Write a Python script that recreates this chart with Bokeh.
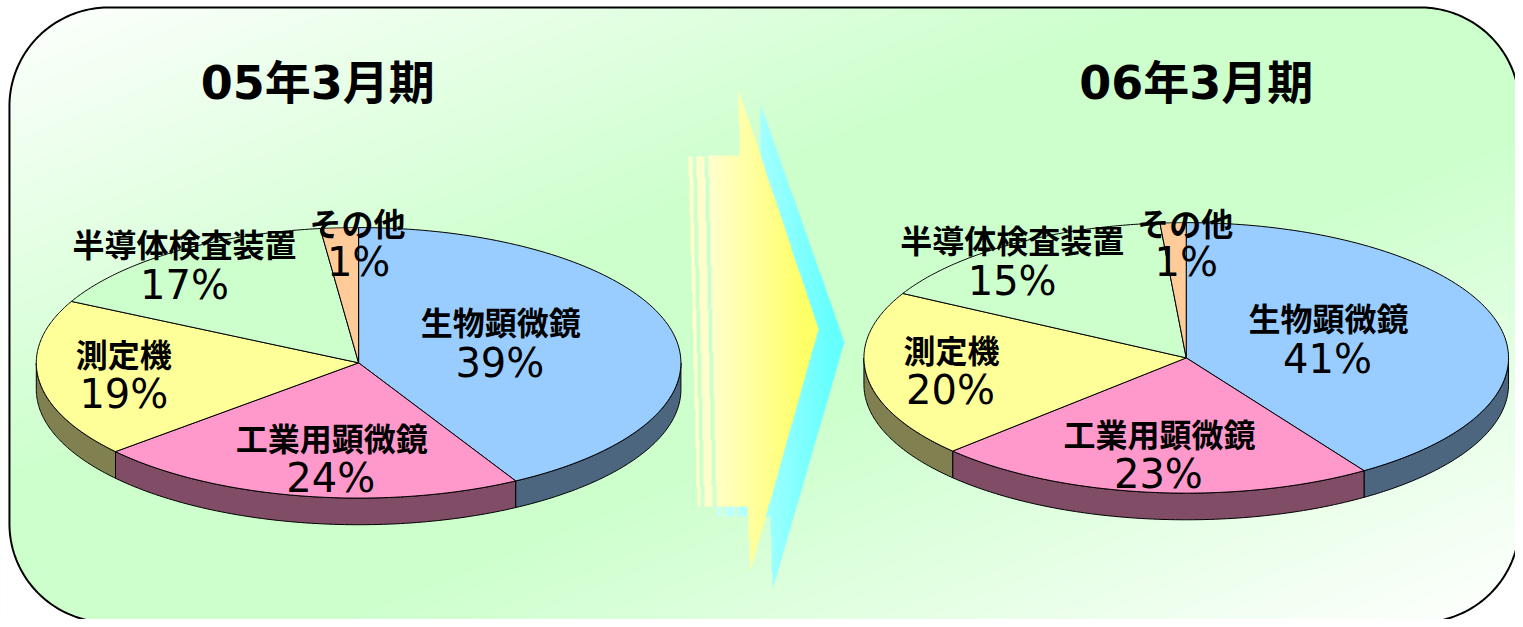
import numpy as np
from bokeh.plotting import figure
from bokeh.core.properties import value
from bokeh.embed import file_html
from bokeh.resources import INLINE

# ---- data -----------------------------------------------------------------
categories = ["生物顕微鏡", "工業用顕微鏡", "測定機", "半導体検査装置", "その他"]
titles = ["05年3月期", "06年3月期"]
labels_05 = ["39%", "24%", "19%", "17%", "1%"]
labels_06 = ["41%", "23%", "20%", "15%", "1%"]
# slice sizes as they appear in the perspective drawing
shares_05 = [41.9, 21.7, 18.9, 15.6, 1.9]
shares_06 = [40.7, 22.2, 20.0, 15.8, 1.3]

# ---- styles / layout ------------------------------------------------------
top_colors = ["#99CCFF", "#FF99CC", "#FFFF99", "#CCFFCC", "#FFCC99"]
side_colors = ["#4C6680", "#804C66", "#808050", "#668066", "#806650"]
W, H = 1523, 627
RX, RY, DEPTH = 324, 137, 27
pies = [
    dict(cx=360, cy=367, shares=shares_05, labels=labels_05, title=titles[0], tx=319,
         cat_xy=[(503, 325), (333, 442), (124, 357), (185, 246), (359, 224)],
         pct_xy=[(502, 367), (332, 484), (124, 399), (185, 288), (360, 265)]),
    dict(cx=1192, cy=362, shares=shares_06, labels=labels_06, title=titles[1], tx=1202,
         cat_xy=[(1335, 321), (1165, 438), (956, 353), (1017, 242), (1191, 224)],
         pct_xy=[(1334, 363), (1164, 480), (955, 395), (1017, 284), (1192, 265)]),
]

p = figure(width=W - 8, height=H - 8, x_range=(0, W), y_range=(H, 0),
           output_backend="svg", toolbar_location=None, min_border=0,
           x_axis_location=None, y_axis_location=None, outline_line_color=None,
           background_fill_color="white", border_fill_color="white")
p.grid.visible = False


def hexrgb(c):
    return np.array([int(c[i:i + 2], 16) for i in (1, 3, 5)], dtype=float)


def in_poly(px, py, poly):
    inside = np.zeros(px.shape, dtype=bool)
    n = len(poly)
    for i in range(n):
        x1, y1 = poly[i]
        x2, y2 = poly[(i + 1) % n]
        if y1 == y2:
            continue
        cond = (y1 > py) != (y2 > py)
        xint = x1 + (py - y1) * (x2 - x1) / (y2 - y1)
        inside ^= cond & (px < xint)
    return inside


# ---- gradient panel --------------------------------------------------------
L, T, R, B, RAD = 9, 7, 1527, 630, 100
xx, yy = np.meshgrid(np.arange(0, W) + .5, np.arange(0, H) + .5)
t = (xx / W + yy / H) / 2
k = np.clip((1 - np.abs(2 * t - 1)) * 1.25, 0, 1)
white, green = np.array([255., 255, 255]), hexrgb("#CCFFCC")
bg = np.zeros(xx.shape + (4,), dtype=np.uint8)
for c in range(3):
    bg[..., c] = white[c] + (green[c] - white[c]) * k
bg[..., 3] = 255


def put_image(arr):
    p.image_rgba(image=[arr.view(np.uint32).reshape(arr.shape[:2])],
                 x=0, y=0, dw=W, dh=H)


put_image(bg.copy())

# panel outline with white corners masked
ang = np.radians(np.linspace(0, 90, 60))
corner_tl = [(L + RAD - RAD * np.cos(a), T + RAD - RAD * np.sin(a)) for a in ang]
corner_tr = [(R - RAD + RAD * np.sin(a), T + RAD - RAD * np.cos(a)) for a in ang]
corner_br = [(R - RAD + RAD * np.cos(a), B - RAD + RAD * np.sin(a)) for a in ang]
corner_bl = [(L + RAD - RAD * np.sin(a), B - RAD + RAD * np.cos(a)) for a in ang]
outline = corner_tl + corner_tr + corner_br + corner_bl
ox, oy = zip(*outline)
outer = [(-5, -5), (W + 20, -5), (W + 20, H + 20), (-5, H + 20)]
p.multi_polygons(
    xs=[[[[o[0] for o in outer], list(ox)]]],
    ys=[[[[o[1] for o in outer], list(oy)]]],
    fill_color="white", line_color=None)
p.patch(list(ox), list(oy), fill_color=None, line_color="black", line_width=2)


# ---- arrows ----------------------------------------------------------------
def gradient_polys(polys, c0, c1, x0, x1):
    mask = np.zeros(xx.shape, dtype=bool)
    for poly in polys:
        mask |= in_poly(xx, yy, poly)
    g = np.clip((xx - x0) / (x1 - x0), 0, 1)[..., None]
    rgb = hexrgb(c0) + (hexrgb(c1) - hexrgb(c0)) * g
    out = np.zeros(xx.shape + (4,), dtype=np.uint8)
    out[..., :3] = rgb
    out[..., 3] = mask * 255
    put_image(out.copy())


cyan_polys = [
    [(745, 168), (764, 168), (764, 105), (848, 346), (776, 597), (774, 523), (751, 523)],
    [(741, 513), (751, 513), (751, 523), (741, 523)],
    [(729, 513), (738, 513), (738, 523), (729, 523)],
    [(721, 513), (725, 513), (725, 523), (721, 523)],
]
gradient_polys(cyan_polys, "#CCFFFF", "#66FFFF", 720, 835)
yellow_polys = [
    [(712, 157), (743, 157), (742, 90), (822, 333), (754, 578), (751, 513), (720, 513)],
    [(692, 158), (696, 158), (704, 513), (701, 513)],
    [(700, 158), (708, 158), (716, 513), (708, 513)],
]
gradient_polys(yellow_polys, "#FFFFCC", "#FFFF66", 715, 808)


# ---- pies ------------------------------------------------------------------
def ell(cx, cy, deg, dy=0):
    r = np.radians(deg)
    return cx + RX * np.sin(r), cy - RY * np.cos(r) + dy


for pie in pies:
    cx, cy = pie["cx"], pie["cy"]
    edges = np.cumsum([0] + pie["shares"]) / sum(pie["shares"]) * 360
    # front walls
    sx, sy, sc = [], [], []
    for i in range(len(categories)):
        a0, a1 = max(edges[i], 90), min(edges[i + 1], 270)
        if a1 <= a0:
            continue
        d = np.linspace(a0, a1, 80)
        xa, ya = ell(cx, cy, d)
        xb, yb = ell(cx, cy, d[::-1], DEPTH)
        sx.append(list(xa) + list(xb))
        sy.append(list(ya) + list(yb))
        sc.append(side_colors[i])
    p.patches(sx, sy, fill_color=sc, line_color="black", line_width=1)
    # top face
    tx, ty = [], []
    for i in range(len(categories)):
        d = np.linspace(edges[i], edges[i + 1], 120)
        xa, ya = ell(cx, cy, d)
        tx.append([cx] + list(xa))
        ty.append([cy] + list(ya))
    p.patches(tx, ty, fill_color=top_colors, line_color="black", line_width=1)
    # texts
    p.text(x=[q[0] for q in pie["cat_xy"]], y=[q[1] for q in pie["cat_xy"]], text=categories,
           text_font=value("Noto Sans CJK JP"), text_font_style="bold", text_font_size="32px",
           text_align="center", text_baseline="middle", text_color="black")
    p.text(x=[q[0] for q in pie["pct_xy"]], y=[q[1] for q in pie["pct_xy"]], text=pie["labels"],
           text_font=value("DejaVu Sans"), text_font_size="40px",
           text_align="center", text_baseline="middle", text_color="black")
    p.text(x=[pie["tx"]], y=[84], text=[pie["title"]],
           text_font=value("'DejaVu Sans','Noto Sans CJK JP'"), text_font_style="bold", text_font_size="46px",
           text_align="center", text_baseline="middle", text_color="black")

open("out.html", "w").write(file_html(p, INLINE))
